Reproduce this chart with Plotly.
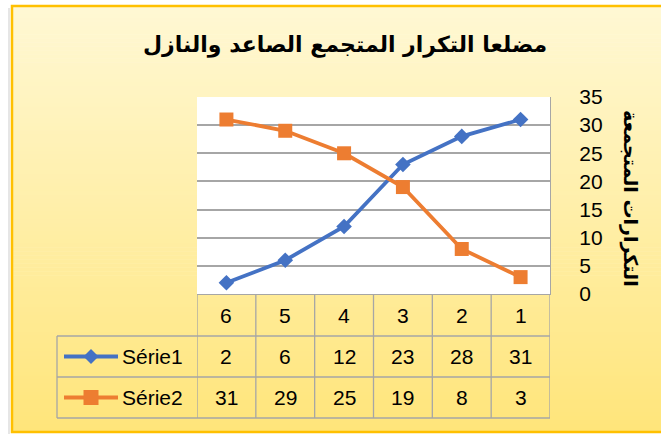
import plotly.graph_objects as go

categories = ["6", "5", "4", "3", "2", "1"]
serie1 = [2, 6, 12, 23, 28, 31]
serie2 = [31, 29, 25, 19, 8, 3]
series_names = ["Série1", "Série2"]
y_ticks = [0, 5, 10, 15, 20, 25, 30, 35]
title_text = "مضلعا التكرار المتجمع الصاعد والنازل"
y_title_text = "التكرارات المتجمعة"

W, H = 661, 434
L, R, T, B = 197, 550, 97, 294  # plot area pixel box

def px_x(p):
    return (p - L) / (R - L)

def px_y(p):
    return (B - p) / (B - T)

BLUE = "#4472C4"
ORANGE = "#ED7D31"
GRID = "#A6A6A6"
FONT = "Liberation Sans"
AR_FONT = "DejaVu Sans"

fig = go.Figure()
fig.add_trace(go.Scatter(x=categories, y=serie1, mode="lines+markers", name=series_names[0],
                         line=dict(color=BLUE, width=3.8),
                         marker=dict(symbol="diamond", size=12, color=BLUE)))
fig.add_trace(go.Scatter(x=categories, y=serie2, mode="lines+markers", name=series_names[1],
                         line=dict(color=ORANGE, width=3.8),
                         marker=dict(symbol="square", size=14, color=ORANGE)))

shapes = []
# gradient background bands
top_c = (255, 248, 212)
bot_c = (255, 229, 122)
y0p, y1p = 6, 432
n = 106
for i in range(n):
    a = y0p + (y1p - y0p) * i / n
    b = y0p + (y1p - y0p) * (i + 1) / n
    t = (i + 0.5) / n
    c = tuple(round(top_c[k] + (bot_c[k] - top_c[k]) * t) for k in range(3))
    shapes.append(dict(type="rect", xref="paper", yref="paper", layer="below",
                       x0=px_x(12), x1=px_x(670), y0=px_y(a), y1=px_y(b + 0.6),
                       line=dict(width=0), fillcolor="rgb(%d,%d,%d)" % c))
# white plot area
shapes.append(dict(type="rect", xref="paper", yref="paper", layer="below",
                   x0=0, x1=1, y0=0, y1=1, line=dict(width=0), fillcolor="white"))
# faint shadow at left
shapes.append(dict(type="line", xref="paper", yref="paper", layer="below",
                   x0=px_x(9), x1=px_x(9), y0=px_y(8), y1=px_y(434),
                   line=dict(color="#E6E6E6", width=2)))
# outer border
shapes.append(dict(type="rect", xref="paper", yref="paper", layer="above",
                   x0=px_x(12), x1=px_x(672), y0=px_y(6), y1=px_y(432),
                   line=dict(color="#FFC000", width=2.5), fillcolor="rgba(0,0,0,0)"))

# data table lines
row_lines = [336, 377, 418]
for yy in row_lines:
    shapes.append(dict(type="line", xref="paper", yref="paper",
                       x0=px_x(57), x1=1, y0=px_y(yy), y1=px_y(yy),
                       line=dict(color=GRID, width=1.3)))
for k in range(len(categories) + 1):
    shapes.append(dict(type="line", xref="x", yref="paper",
                       x0=k - 0.5, x1=k - 0.5, y0=0, y1=px_y(418),
                       line=dict(color=GRID, width=1.3)))
shapes.append(dict(type="line", xref="paper", yref="paper",
                   x0=px_x(57), x1=px_x(57), y0=px_y(336), y1=px_y(418),
                   line=dict(color=GRID, width=1.3)))

# legend keys in table
row_centers = [315, 356.5, 397.5]
for idx, (col, sym) in enumerate([(BLUE, "diamond"), (ORANGE, "square")]):
    yc = px_y(row_centers[idx + 1])
    shapes.append(dict(type="line", xref="paper", yref="paper",
                       x0=px_x(64), x1=px_x(118), y0=yc, y1=yc,
                       line=dict(color=col, width=3.8)))
    if sym == "diamond":
        path = "M -7.5 0 L 0 -7.5 L 7.5 0 L 0 7.5 Z"
    else:
        path = "M -7.5 -7.5 L 7.5 -7.5 L 7.5 7.5 L -7.5 7.5 Z"
    shapes.append(dict(type="path", xref="paper", yref="paper",
                       xsizemode="pixel", ysizemode="pixel",
                       xanchor=px_x(91), yanchor=yc, path=path,
                       fillcolor=col, line=dict(width=0)))

annotations = []
tfont = dict(family=FONT, size=21, color="black")
for i, c in enumerate(categories):
    annotations.append(dict(x=i, y=px_y(row_centers[0]), xref="x", yref="paper",
                            text=c, showarrow=False, font=tfont,
                            xanchor="center", yanchor="middle"))
for r, vals in enumerate([serie1, serie2]):
    for i, v in enumerate(vals):
        annotations.append(dict(x=i, y=px_y(row_centers[r + 1]), xref="x", yref="paper",
                                text=str(v), showarrow=False, font=tfont,
                                xanchor="center", yanchor="middle"))
    annotations.append(dict(x=px_x(120), y=px_y(row_centers[r + 1]), xref="paper", yref="paper",
                            text=series_names[r], showarrow=False, font=tfont,
                            xanchor="left", yanchor="middle"))

annotations.append(dict(x=px_x(345), y=px_y(45), xref="paper", yref="paper",
                        text="<b>" + title_text + "</b>", showarrow=False,
                        font=dict(family=AR_FONT, size=22, color="black"),
                        xanchor="center", yanchor="middle"))
annotations.append(dict(x=px_x(631), y=px_y(198), xref="paper", yref="paper",
                        text="<b>" + y_title_text + "</b>", showarrow=False, textangle=90,
                        font=dict(family=AR_FONT, size=19, color="black"),
                        xanchor="center", yanchor="middle"))

fig.update_layout(
    width=W, height=H,
    margin=dict(l=L, r=W - R, t=T, b=H - B, pad=0),
    paper_bgcolor="white", plot_bgcolor="white",
    showlegend=False,
    shapes=shapes, annotations=annotations,
    xaxis=dict(type="category", range=[-0.5, len(categories) - 0.5],
               showticklabels=False, showgrid=False, zeroline=False,
               showline=True, linecolor=GRID, linewidth=1.3, ticks="",
               fixedrange=True),
    yaxis=dict(side="right", range=[0, 35], tickvals=y_ticks, showgrid=True,
               gridcolor=GRID, gridwidth=1.5, zeroline=False,
               showline=True, linecolor=GRID, linewidth=1.3,
               ticks="", ticklabelstandoff=24, fixedrange=True,
               tickfont=dict(family=FONT, size=21, color="black")),
)

fig.write_html("out.html", config={"displayModeBar": False},
               post_script="document.body.style.margin='0';")
